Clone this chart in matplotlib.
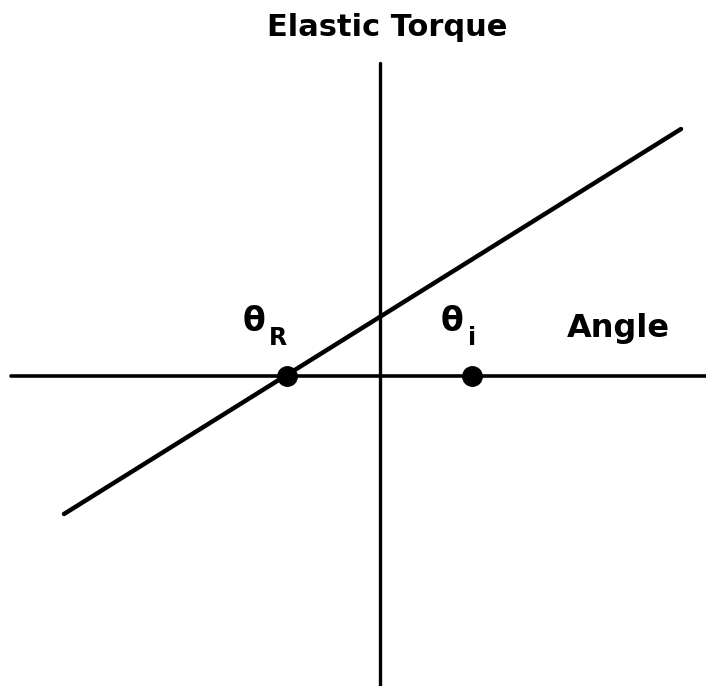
import matplotlib
matplotlib.use('Agg')
import matplotlib.pyplot as plt

# прямая упругого момента и точки на оси углов
line_x = [-3.16, 3.01]
line_y = [-1.38, 2.47]
point_x = [-0.93, 0.92]
point_y = [0.0, 0.0]
point_labels = ['R', 'i']

axis_x = [-3.69, 3.30]
axis_y = [-3.12, 3.13]

# смещения подписей относительно точек (θ, индекс)
theta_dx = [-0.33, -0.20]
sub_dx = [-0.09, 0.00]

fig = plt.figure(figsize=(7.06, 6.86), dpi=100)
ax = fig.add_axes([0, 0, 1, 1])
ax.set_xlim(-3.80, 3.26)
ax.set_ylim(-3.10, 3.76)
ax.axis('off')

# оси
ax.plot(axis_x, [0, 0], color='black', lw=2.6, solid_capstyle='round')
ax.plot([0, 0], axis_y, color='black', lw=2.4, solid_capstyle='round')

# прямая
ax.plot(line_x, line_y, color='black', lw=3.2, solid_capstyle='round')

# точки
ax.plot(point_x, point_y, 'o', color='black', markersize=14)

font = dict(family='DejaVu Sans', fontweight='bold', color='black')

# подписи точек
for x, lab, tdx, sdx in zip(point_x, point_labels, theta_dx, sub_dx):
    ax.text(x + tdx, 0.54, 'θ', fontsize=24, ha='center', va='center', **font)
    ax.text(x + sdx, 0.38, lab, fontsize=17, ha='center', va='center', **font)

ax.text(2.38, 0.47, 'Angle', fontsize=23, ha='center', va='center', **font)
ax.text(0.07, 3.48, 'Elastic Torque', fontsize=22, ha='center', va='center', **font)

fig.savefig('out.png', dpi=100, facecolor='white')
